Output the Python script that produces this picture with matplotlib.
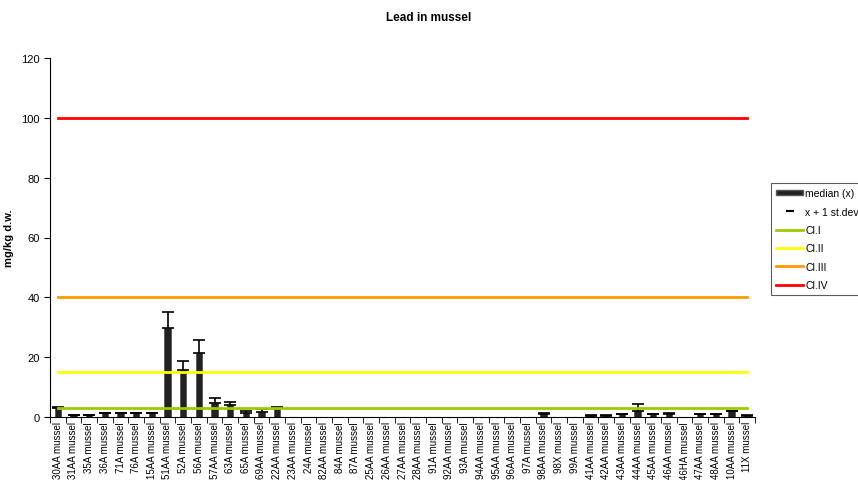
import numpy as np
import matplotlib.pyplot as plt
from matplotlib.patches import Patch
from matplotlib.lines import Line2D

plt.rcParams['font.family'] = ['Liberation Sans', 'DejaVu Sans']

stations = ["30AA", "31AA", "35A", "36A", "71A", "76A", "15AA", "51AA", "52A", "56A",
            "57AA", "63A", "65A", "69AA", "22AA", "23AA", "24A", "82AA", "84A", "87A",
            "25AA", "26AA", "27AA", "28AA", "91A", "92AA", "93A", "94AA", "95AA", "96AA",
            "97A", "98AA", "98X", "99A", "41AA", "42AA", "43AA", "44AA", "45AA", "46AA",
            "46HA", "47AA", "48AA", "10AA", "11X"]
labels = [s + " mussel" for s in stations]

median = [3.0, 0.7, 0.7, 1.2, 1.2, 1.2, 1.2, 29.8, 15.8, 21.3,
          4.6, 3.9, 1.3, 1.7, 3.1, 0, 0, 0, 0, 0,
          0, 0, 0, 0, 0, 0, 0, 0, 0, 0,
          0, 0.9, 0, 0, 0.5, 0.5, 0.9, 2.0, 0.9, 1.1,
          0, 0.9, 0.9, 2.0, 0.5]
upper = [3.3, 0.8, 0.8, 1.3, 1.3, 1.3, 1.3, 35.0, 18.8, 25.7,
         6.5, 5.0, 2.0, 2.6, 3.2, 0, 0, 0, 0, 0,
         0, 0, 0, 0, 0, 0, 0, 0, 0, 0,
         0, 1.2, 0, 0, 0.6, 0.6, 1.0, 4.2, 1.0, 1.2,
         0, 1.0, 1.0, 2.1, 0.6]

class_limits = [3, 15, 40, 100]
class_names = ["Cl.I", "Cl.II", "Cl.III", "Cl.IV"]
class_colors = ["#99cc00", "#ffff00", "#ff9900", "#ff0000"]

x = np.arange(len(labels))
med = np.array(median)
err = np.clip(np.array(upper) - med, 0, None)

fig = plt.figure(figsize=(8.58, 4.81), dpi=100)
ax = fig.add_axes([50/858, 63/481, 705/858, 359/481])

ax.bar(x, med, width=0.4, color="#222222", edgecolor="#555555", linewidth=0.6, zorder=2)
mask = med > 0
ax.errorbar(x[mask], med[mask], yerr=[np.zeros(mask.sum()), err[mask]], fmt="none",
            ecolor="black", elinewidth=1.2, capsize=4, capthick=1.2, zorder=3)

for lim, col in zip(class_limits, class_colors):
    ax.plot(x, np.full(len(x), lim), color=col, linewidth=2, zorder=4)

ax.set_xlim(-0.5, len(x) - 0.5)
ax.set_ylim(0, 120)
ax.set_yticks(np.arange(0, 121, 20))
ax.set_xticks(x)
ax.set_xticklabels(labels, rotation=90, fontsize=7)
ax.set_xticks(np.arange(-0.5, len(x), 1), minor=True)
ax.tick_params(axis="x", which="major", length=0, pad=3)
ax.tick_params(axis="x", which="minor", length=4, direction="out")
ax.tick_params(axis="y", labelsize=8, length=4, direction="out")
ax.spines["top"].set_visible(False)
ax.spines["right"].set_visible(False)
ax.set_ylabel("mg/kg d.w.", fontsize=8, fontweight="bold")
ax.yaxis.set_label_coords(-36/705, 0.5)

fig.text(0.5, 1 - 18/481, "Lead in mussel", ha="center", va="center",
         fontsize=8.5, fontweight="bold")

handles = [Patch(facecolor="#222222", edgecolor="#555555", label="median (x)"),
           Line2D([], [], color="black", marker="_", linestyle="none", markersize=6,
                  markeredgewidth=1.5, label="x + 1 st.dev")]
for name, col in zip(class_names, class_colors):
    handles.append(Line2D([], [], color=col, linewidth=2, label=name))
leg = fig.legend(handles=handles, loc="upper left", bbox_to_anchor=(771/858, 1 - 184/481),
                 fontsize=7.5, frameon=True, fancybox=False, borderaxespad=0,
                 borderpad=0.5, handlelength=2.6, handleheight=0.5, handletextpad=0.2,
                 labelspacing=0.8)
leg.get_frame().set_edgecolor("#333333")
leg.get_frame().set_linewidth(0.8)

fig.savefig("out.png", dpi=100)
